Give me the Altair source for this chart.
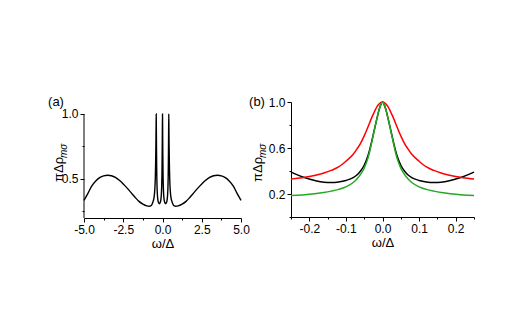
import altair as alt
import pandas as pd

# ---------------- data ----------------
omega_a = [-5.0, -4.75, -4.5, -4.25, -4.0, -3.75, -3.5, -3.25, -3.0, -2.75, -2.5, -2.25,
           -2.0, -1.75, -1.5, -1.25, -1.0, -0.85, -0.75, -0.65, -0.58, -0.53, -0.49, -0.46,
           -0.44, -0.42, -0.41, -0.40, -0.39, -0.38, -0.37, -0.35, -0.32, -0.28, -0.24, -0.20,
           -0.16, -0.12, -0.08, -0.05, -0.03, -0.02, -0.01, 0.0,
           0.01, 0.02, 0.03, 0.05, 0.08, 0.12, 0.16, 0.20, 0.24, 0.28, 0.32, 0.35, 0.37, 0.38,
           0.39, 0.40, 0.41, 0.42, 0.44, 0.46, 0.49, 0.53, 0.58, 0.65, 0.75, 0.85, 1.0, 1.25,
           1.5, 1.75, 2.0, 2.25, 2.5, 2.75, 3.0, 3.25, 3.5, 3.75, 4.0, 4.25, 4.5, 4.75, 5.0]
rho_a = [0.335, 0.39, 0.447, 0.485, 0.51, 0.524, 0.529, 0.525, 0.512, 0.49, 0.462, 0.43,
         0.395, 0.36, 0.328, 0.307, 0.293, 0.29, 0.293, 0.31, 0.335, 0.365, 0.42, 0.5,
         0.6, 0.76, 0.88, 1.0, 0.85, 0.7, 0.58, 0.45, 0.37, 0.33, 0.315, 0.31,
         0.315, 0.33, 0.37, 0.45, 0.58, 0.7, 0.85, 1.0,
         0.85, 0.7, 0.58, 0.45, 0.37, 0.33, 0.315, 0.31, 0.315, 0.33, 0.37, 0.45, 0.58, 0.7,
         0.85, 1.0, 0.88, 0.76, 0.6, 0.5, 0.42, 0.365, 0.335, 0.31, 0.293, 0.29, 0.293, 0.307,
         0.328, 0.36, 0.395, 0.43, 0.462, 0.49, 0.512, 0.525, 0.529, 0.524, 0.51, 0.485, 0.447, 0.39, 0.335]

omega_b = [-0.25, -0.22, -0.20, -0.18, -0.16, -0.14, -0.12, -0.10, -0.08, -0.07, -0.06,
           -0.05, -0.04, -0.035, -0.03, -0.025, -0.02, -0.015, -0.01, -0.005, 0.0,
           0.005, 0.01, 0.015, 0.02, 0.025, 0.03, 0.035, 0.04, 0.05, 0.06, 0.07, 0.08,
           0.10, 0.12, 0.14, 0.16, 0.18, 0.20, 0.22, 0.25]
rho_black = [0.39, 0.35, 0.33, 0.313, 0.303, 0.30, 0.305, 0.318, 0.342, 0.365, 0.40,
             0.45, 0.53, 0.585, 0.65, 0.72, 0.79, 0.86, 0.925, 0.975, 1.0,
             0.975, 0.925, 0.86, 0.79, 0.72, 0.65, 0.585, 0.53, 0.45, 0.40, 0.365, 0.342,
             0.318, 0.305, 0.30, 0.303, 0.313, 0.33, 0.35, 0.39]
rho_red = [0.33, 0.342, 0.352, 0.365, 0.382, 0.405, 0.435, 0.485, 0.545, 0.59, 0.64,
           0.705, 0.78, 0.82, 0.86, 0.895, 0.93, 0.96, 0.98, 0.995, 1.0,
           0.995, 0.98, 0.96, 0.93, 0.895, 0.86, 0.82, 0.78, 0.705, 0.64, 0.59, 0.545,
           0.485, 0.435, 0.405, 0.382, 0.365, 0.352, 0.342, 0.33]
rho_green = [0.187, 0.192, 0.198, 0.205, 0.213, 0.225, 0.24, 0.262, 0.30, 0.33, 0.37,
             0.425, 0.51, 0.57, 0.64, 0.715, 0.79, 0.86, 0.925, 0.975, 1.0,
             0.975, 0.925, 0.86, 0.79, 0.715, 0.64, 0.57, 0.51, 0.425, 0.37, 0.33, 0.30,
             0.262, 0.24, 0.225, 0.213, 0.205, 0.198, 0.192, 0.187]

series_names = ["black", "red", "green"]
series_colors = ["#000000", "#ff0000", "#22aa22"]

xa_ticks = [-5.0, -3.75, -2.5, -1.25, 0.0, 1.25, 2.5, 3.75, 5.0]
ya_ticks = [0.25, 0.5, 0.75, 1.0]
xb_ticks = [-0.25, -0.2, -0.15, -0.1, -0.05, 0.0, 0.05, 0.1, 0.15, 0.2, 0.25]
yb_ticks = [0.0, 0.2, 0.4, 0.6, 0.8, 1.0]

panel_labels = ["(a)", "(b)"]
y_title_main = "πΔρ"
y_title_sub = "mσ"
x_title = "ω/Δ"

FONT = "Liberation Sans"

df_a = pd.DataFrame({"w": omega_a, "r": rho_a})
df_b = pd.concat([pd.DataFrame({"w": omega_b, "r": v, "s": n})
                  for n, v in zip(series_names, [rho_black, rho_red, rho_green])])

lab_fmt = "(datum.value < -0.00001 ? '-' : '') + format(abs(datum.value), '.1f')"

def major_test(step):
    return f"abs(datum.value/{step} - round(datum.value/{step})) < 0.001"

def tick_size(test):
    return {"condition": {"test": test, "value": 4}, "value": 2}

# ---------------- panel (a) ----------------
xa = alt.X("w:Q", scale=alt.Scale(domain=[-5, 5], nice=False, zero=False),
           axis=alt.Axis(values=xa_ticks, title=x_title,
                         labelExpr=f"{major_test(2.5)} ? {lab_fmt} : ''",
                         tickSize=tick_size(major_test(2.5))))
ya = alt.Y("r:Q", scale=alt.Scale(domain=[0.2, 1.0923], nice=False, zero=False),
           axis=alt.Axis(values=ya_ticks, title=None, domain=False,
                         labelExpr=f"{major_test(0.5)} ? format(datum.value, '.1f') : ''",
                         tickSize=tick_size(major_test(0.5))))

line_a = alt.Chart(df_a).mark_line(color="black", strokeWidth=1.4, interpolate="monotone").encode(
    x=xa, y=ya, order=alt.Order("w:Q"))
axis_line_a = alt.Chart(pd.DataFrame({"w": [-5.0], "r": [0.2], "r2": [1.0]})).mark_rule(
    color="black", strokeWidth=1).encode(x=xa, y=ya, y2="r2:Q")

def texts(label, dx_label, dx_title):
    t1 = alt.Chart(pd.DataFrame({"t": [label]})).mark_text(
        font=FONT, fontSize=13, align="center", baseline="middle", color="black").encode(
        x=alt.value(dx_label), y=alt.value(0), text="t:N")
    t2 = alt.Chart(pd.DataFrame({"t": [y_title_main]})).mark_text(
        font=FONT, fontSize=13, align="left", baseline="middle", angle=270, color="black").encode(
        x=alt.value(dx_title), y=alt.value(80), text="t:N")
    t3 = alt.Chart(pd.DataFrame({"t": [y_title_sub]})).mark_text(
        font=FONT, fontSize=10, fontStyle="italic", align="left", baseline="middle",
        angle=270, color="black").encode(
        x=alt.value(dx_title + 5), y=alt.value(56), text="t:N")
    return [t1, t2, t3]

panel_a = alt.layer(line_a, axis_line_a, *texts(panel_labels[0], -28, -25)).properties(width=157, height=116)

# ---------------- panel (b) ----------------
xb = alt.X("w:Q", scale=alt.Scale(domain=[-0.25, 0.25], nice=False, zero=False),
           axis=alt.Axis(values=xb_ticks, title=x_title,
                         labelExpr=f"{major_test(0.1)} && abs(datum.value) < 0.24 ? {lab_fmt} : ''",
                         tickSize=tick_size(major_test(0.1))))
yb_test = "abs(datum.value - 0.2) < 0.001 || abs(datum.value - 0.6) < 0.001 || abs(datum.value - 1) < 0.001"
yb = alt.Y("r:Q", scale=alt.Scale(domain=[0, 1], nice=False, zero=False),
           axis=alt.Axis(values=yb_ticks, title=None,
                         labelExpr=f"({yb_test}) ? format(datum.value, '.1f') : ''",
                         tickSize=tick_size(yb_test)))

line_b = alt.Chart(df_b).mark_line(strokeWidth=1.5, interpolate="monotone").encode(
    x=xb, y=yb,
    color=alt.Color("s:N", scale=alt.Scale(domain=series_names, range=series_colors), legend=None),
    order=alt.Order("w:Q"))

panel_b = alt.layer(line_b, *texts(panel_labels[1], -34, -33)).properties(width=183, height=115)

chart = alt.hconcat(panel_a, panel_b, spacing=50, bounds="flush",
                    padding={"left": 40, "top": 88, "right": 0, "bottom": 0}).configure_axis(
    grid=False, labelFont=FONT, labelFontSize=12, labelColor="black",
    titleFont=FONT, titleFontSize=13, titleColor="black", titleFontWeight="normal",
    domainColor="black", tickColor="black", domainWidth=1, tickWidth=1,
    labelPadding=2, titlePadding=2, labelFlush=False, labelOverlap=False
).configure_view(stroke=None)

chart.save("out.html", embed_options={"renderer": "svg", "actions": False})
